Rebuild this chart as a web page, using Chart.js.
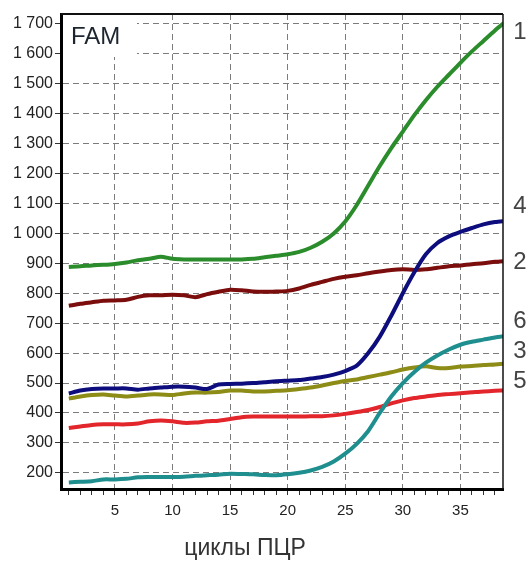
<!DOCTYPE html>
<html>
<head>
<meta charset="utf-8">
<script src="https://cdn.jsdelivr.net/npm/chart.js@4.4.1/dist/chart.umd.min.js"></script>
<style>
body { margin: 0; background: #fff; }
canvas { display: block; }
</style>
</head>
<body>
<canvas id="myChart" width="528" height="563"></canvas>
<script>
// PCR cycles and fluorescence (FAM) for each tube
let cycles = [1,2,3,4,5,6,7,8,9,10,11,12,13,14,15,16,17,18,19,20,21,22,23,24,25,26,27,28,29,30,31,32,33,34,35,36,37,38,39];

let tube1 = [888,890,893,895,898,903,910,915,922,915,913,913,913,913,913,913,915,920,925,930,938,952,972,1000,1040,1095,1160,1225,1285,1340,1395,1445,1490,1530,1570,1608,1643,1678,1710];
let tube2 = [758,765,770,775,776,778,788,793,793,795,793,787,797,805,812,810,806,805,806,808,816,828,838,848,855,860,867,873,878,880,878,880,885,890,893,897,900,905,908];
let tube3 = [448,455,460,462,458,455,458,462,462,460,465,468,468,470,475,475,472,472,474,476,480,485,492,500,507,512,520,528,536,545,552,556,550,550,555,557,560,562,565];
let tube4 = [465,475,480,482,482,482,478,482,485,488,488,485,480,495,497,498,500,503,506,508,510,515,520,528,540,558,600,655,725,800,870,930,968,990,1005,1018,1030,1038,1042];
let tube5 = [350,355,360,362,362,362,365,372,375,372,367,368,372,374,380,386,388,388,388,388,388,389,389,392,397,403,410,420,432,442,450,455,460,463,466,469,472,474,476];
let tube6 = [168,170,172,178,178,180,185,186,186,186,187,190,192,194,197,196,195,193,192,195,200,208,220,238,264,297,340,400,455,500,537,568,592,612,628,638,645,652,658];

let tubeNames = ['1', '2', '3', '4', '5', '6'];
let tubeColors = ['#2b8c2b', '#7b0d0d', '#8c8c16', '#0d0d7e', '#e2262b', '#1f8e8e'];

let yTicks = [200,300,400,500,600,700,800,900,1000,1100,1200,1300,1400,1500,1600,1700];
let xMinor = [1,2,3,4,5,6,7,8,9,10,11,12,13,14,15,16,17,18,19,20,21,22,23,24,25,26,27,28,29,30,31,32,33,34,35,36,37,38];

let channel = 'FAM';
let xTitle = 'циклы ПЦР';

// where the tube numbers sit next to the end of each curve (px shift)
let labelShift = { '1': 11, '2': 1, '3': -12, '4': -14, '5': -9, '6': -14 };

function fmt(v) {
    if (v >= 1000) return Math.floor(v / 1000) + ' ' + String(v % 1000).padStart(3, '0');
    return String(v);
}

let allTubes = [tube1, tube2, tube3, tube4, tube5, tube6];
let datasets = [];
// draw order: green on top
let order = [0, 3, 1, 5, 4, 2];
order.forEach(i => {
    datasets.push({
        label: tubeNames[i],
        data: allTubes[i],
        borderColor: tubeColors[i],
        borderWidth: 4,
        pointRadius: 0,
        tension: 0.25,
        fill: false
    });
});

let extras = {
    id: 'extras',
    beforeDatasetsDraw(chart) {
        let ctx = chart.ctx, a = chart.chartArea;
        ctx.save();
        ctx.fillStyle = '#fff';
        ctx.fillRect(a.left + 2, a.top + 1, 74, 42);
        ctx.restore();
    },
    afterDraw(chart) {
        let ctx = chart.ctx, a = chart.chartArea;
        let y = chart.scales.y;
        ctx.save();
        // top and right frame
        ctx.strokeStyle = '#111';
        ctx.lineWidth = 2;
        ctx.beginPath();
        ctx.moveTo(a.left, a.top);
        ctx.lineTo(a.right, a.top);
        ctx.stroke();
        ctx.lineWidth = 1.5;
        ctx.beginPath();
        ctx.moveTo(a.right, a.top);
        ctx.lineTo(a.right, a.bottom);
        ctx.stroke();

        ctx.fillStyle = '#1d2530';
        ctx.font = '24px Arial, "Liberation Sans", sans-serif';
        ctx.textAlign = 'left';
        ctx.textBaseline = 'middle';
        ctx.fillText(channel, a.left + 10, a.top + 23);

        ctx.fillStyle = '#444';
        ctx.font = '24px Arial, "Liberation Sans", sans-serif';
        ctx.textAlign = 'center';
        chart.data.datasets.forEach(ds => {
            let last = ds.data[ds.data.length - 1];
            ctx.fillText(ds.label, a.right + 17, y.getPixelForValue(last) + labelShift[ds.label]);
        });

        ctx.fillStyle = '#333';
        ctx.font = '23px Arial, "Liberation Sans", sans-serif';
        ctx.fillText(xTitle, 245, 549);
        ctx.restore();
    }
};

let ctx = document.getElementById('myChart').getContext('2d');
let chart = new Chart(ctx, {
    type: 'line',
    data: {
        labels: cycles,
        datasets: datasets
    },
    options: {
        responsive: false,
        animation: false,
        devicePixelRatio: 1,
        layout: { padding: { top: 14, right: 25, left: 0, bottom: 0 } },
        plugins: {
            legend: { display: false },
            tooltip: { enabled: false }
        },
        scales: {
            x: {
                type: 'linear',
                min: 0.32,
                max: 38.7,
                afterFit: s => { s.height = 74; },
                afterBuildTicks: s => { s.ticks = xMinor.map(v => ({ value: v })); },
                ticks: {
                    autoSkip: false,
                    maxRotation: 0,
                    padding: 7,
                    color: '#222',
                    font: { family: 'Arial, "Liberation Sans", sans-serif', size: 15 },
                    callback: v => (v % 5 === 0 ? String(v) : '')
                },
                grid: {
                    color: c => (c.tick && c.tick.value % 5 === 0 ? '#7c7c7c' : 'rgba(0,0,0,0)'),
                    lineWidth: 1,
                    tickColor: '#333',
                    tickLength: 6
                },
                border: { display: true, color: '#000', width: 3, dash: [6, 4] }
            },
            y: {
                min: 146,
                max: 1733,
                afterFit: s => { s.width = 61; },
                afterBuildTicks: s => { s.ticks = yTicks.map(v => ({ value: v })); },
                ticks: {
                    padding: 2,
                    color: '#222',
                    font: { family: 'Arial, "Liberation Sans", sans-serif', size: 16 },
                    callback: v => fmt(v)
                },
                grid: {
                    color: '#7c7c7c',
                    lineWidth: 1,
                    tickColor: '#333',
                    tickLength: 6
                },
                border: { display: true, color: '#000', width: 3, dash: [6, 4] }
            }
        }
    },
    plugins: [extras]
});
</script>
</body>
</html>
